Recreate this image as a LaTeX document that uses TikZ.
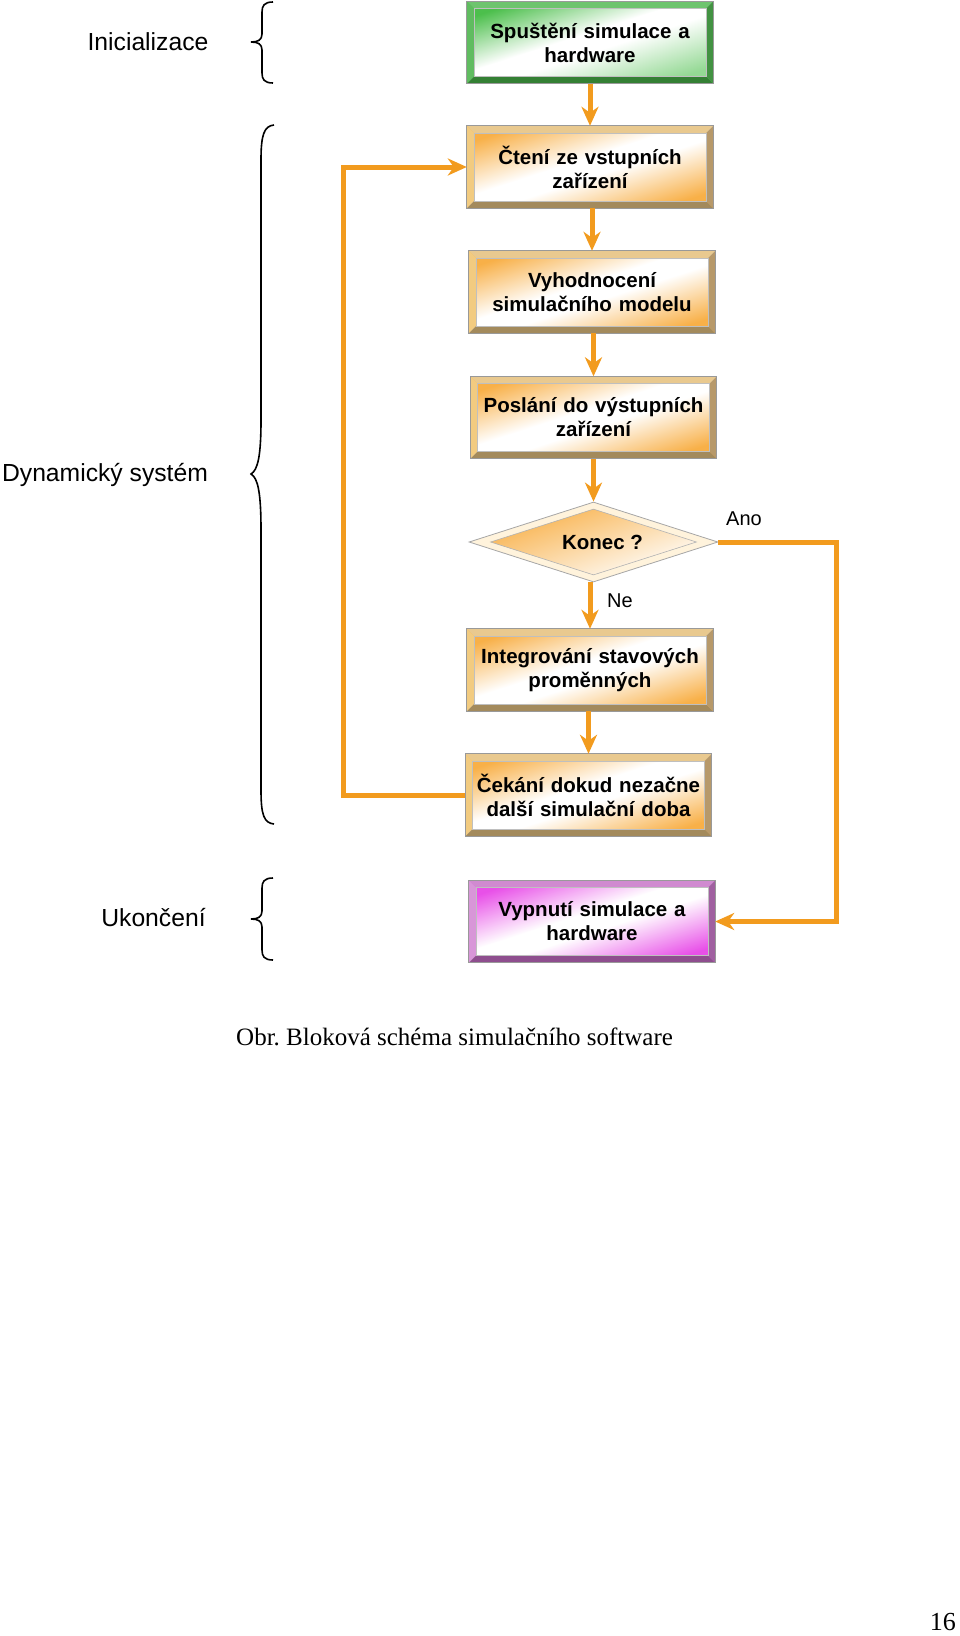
\documentclass[tikz,border=0pt]{standalone}
\usepackage{fontspec}
\setmainfont{Liberation Sans}
\newfontfamily\capfont{Liberation Serif}
\usetikzlibrary{arrows.meta,shapes.geometric}
\definecolor{arr}{RGB}{242,155,30}
\definecolor{orC}{RGB}{248,176,72}
\definecolor{orT}{RGB}{233,201,143}
\definecolor{orL}{RGB}{242,203,128}
\definecolor{orB}{RGB}{163,138,92}
\definecolor{orR}{RGB}{183,153,106}
\definecolor{grC}{RGB}{76,191,76}
\definecolor{grT}{RGB}{110,196,110}
\definecolor{grL}{RGB}{96,188,96}
\definecolor{grB}{RGB}{52,128,52}
\definecolor{grR}{RGB}{66,146,66}
\definecolor{puC}{RGB}{232,80,232}
\definecolor{puT}{RGB}{208,138,208}
\definecolor{puL}{RGB}{216,150,216}
\definecolor{puB}{RGB}{142,78,142}
\definecolor{puR}{RGB}{160,96,160}
\definecolor{cream}{RGB}{255,243,220}
\pgfdeclareverticalshading{orsh}{100bp}{color(0bp)=(orC); color(25bp)=(orC); color(46bp)=(white); color(54bp)=(white); color(75bp)=(orC); color(100bp)=(orC)}
\pgfdeclareverticalshading{grsh}{100bp}{color(0bp)=(grC!60!white); color(25bp)=(grC!60!white); color(46bp)=(white); color(54bp)=(white); color(75bp)=(grC); color(100bp)=(grC)}
\pgfdeclareverticalshading{push}{100bp}{color(0bp)=(puC); color(25bp)=(puC); color(46bp)=(white); color(54bp)=(white); color(75bp)=(puC); color(100bp)=(puC)}
\pgfdeclareverticalshading{dmsh}{100bp}{color(0bp)=(white); color(25bp)=(white); color(45bp)=(orC!40!white); color(75bp)=(orC); color(100bp)=(orC)}
\tikzset{
  box/.style={rectangle, minimum width=246pt, minimum height=82pt, inner sep=0pt,
    text width=232pt, align=center, font=\bfseries\fontsize{20.5}{24}\selectfont},
  shadebox/.style={box, shading=#1, shading angle=18},
  conn/.style={draw=arr, line width=5pt, -{Stealth[length=19pt,width=17pt,inset=6pt]}},
  bracepath/.style={draw=black, line width=1.6pt},
  side/.style={font=\fontsize{24.7}{28}\selectfont},
  lbl/.style={font=\fontsize{20}{24}\selectfont}
}
\newcommand\bevelframe[5]{%
  \fill[#2] (#1.north west) -- (#1.north east) -- ([shift={(-7,7)}]#1.north east) -- ([shift={(7,7)}]#1.north west) -- cycle;
  \fill[#3] (#1.north west) -- ([shift={(7,7)}]#1.north west) -- ([shift={(7,-7)}]#1.south west) -- (#1.south west) -- cycle;
  \fill[#4] (#1.south west) -- ([shift={(7,-7)}]#1.south west) -- ([shift={(-7,-7)}]#1.south east) -- (#1.south east) -- cycle;
  \fill[#5] (#1.south east) -- ([shift={(-7,-7)}]#1.south east) -- ([shift={(-7,7)}]#1.north east) -- (#1.north east) -- cycle;
  \draw[gray!80, line width=0.8pt] (#1.north west) rectangle (#1.south east);
  \draw[gray!50, line width=0.5pt] ([shift={(7,7)}]#1.north west) rectangle ([shift={(-7,-7)}]#1.south east);
}
\begin{document}
\begin{tikzpicture}[x=1pt,y=-1pt]
\useasboundingbox (0,0) rectangle (960,1636);

% boxes
\node[shadebox=grsh] (b1) at (590,42.5) {Spuštění simulace a\\hardware};
\bevelframe{b1}{grT}{grL}{grB}{grR}
\node[shadebox=orsh] (b2) at (590,167) {Čtení ze vstupních\\zařízení};
\bevelframe{b2}{orT}{orL}{orB}{orR}
\node[shadebox=orsh] (b3) at (592,292) {Vyhodnocení\\simulačního modelu};
\bevelframe{b3}{orT}{orL}{orB}{orR}
\node[shadebox=orsh] (b4) at (593.5,417.5) {Poslání do výstupních\\zařízení};
\bevelframe{b4}{orT}{orL}{orB}{orR}
\node[diamond, aspect=3.11, minimum width=249pt, minimum height=80pt, inner sep=0pt,
      draw=gray!70, line width=0.8pt, fill=cream] (d) at (593.5,542) {};
\node[diamond, aspect=3.11, minimum width=206pt, minimum height=66pt, inner sep=0pt,
      draw=gray!60, line width=0.6pt, shading=dmsh, shading angle=20,
      font=\bfseries\fontsize{20.5}{24}\selectfont] (dk) at (593.5,542) {\hspace*{18pt}Konec ?};
\node[shadebox=orsh] (b6) at (590,670) {Integrování stavových\\proměnných};
\bevelframe{b6}{orT}{orL}{orB}{orR}
\node[shadebox=orsh] (b7) at (588.5,795) {Čekání dokud nezačne\\další simulační doba};
\bevelframe{b7}{orT}{orL}{orB}{orR}
\node[shadebox=push] (b8) at (592,921.5) {Vypnutí simulace a\\hardware};
\bevelframe{b8}{puT}{puL}{puB}{puR}

% connectors
\draw[conn] (b2.north |- b1.south) -- (b2.north);
\draw[conn] (b3.north |- b2.south) -- (b3.north);
\draw[conn] (b4.north |- b3.south) -- (b4.north);
\draw[conn] (d.north |- b4.south) -- (d.north);
\draw[conn] (b6.north |- d.south) -- (b6.north);
\draw[conn] (b7.north |- b6.south) -- (b7.north);
\draw[conn] (b7.west) -- ++(-122,0) |- (b2.west);
\draw[conn] (d.east) -- ++(118,0) |- (b8.east);

\node[lbl] (ano) at (744,519) {Ano};
\node[lbl] (ne) at (620,601) {Ne};

% side labels
\node[side] (ini) at (148,42) {Inicializace};
\node[side] (dyn) at (105,475) {Dynamický systém};
\node[side] (uko) at (153.5,918) {Ukončení};

% braces
\draw[bracepath] (273,2) .. controls (264,2) and (262,6) .. (262,12) -- (262,34)
  .. controls (262,40) and (258,42) .. (251,42) .. controls (258,42) and (262,44) .. (262,50)
  -- (262,73) .. controls (262,79) and (264,83) .. (273,83);
\draw[bracepath] (274,125) .. controls (264,126) and (261,135) .. (261,160) -- (261,420)
  .. controls (261,455) and (258,470) .. (251,474) .. controls (258,478) and (261,493) .. (261,530)
  -- (261,790) .. controls (261,815) and (264,823) .. (274,824);
\draw[bracepath] (273,878) .. controls (264,878) and (262,882) .. (262,888) -- (262,911)
  .. controls (262,917) and (258,919) .. (251,919) .. controls (258,919) and (262,921) .. (262,927)
  -- (262,950) .. controls (262,956) and (264,960) .. (273,960);

% caption
\node[anchor=base west, inner sep=0pt, font=\capfont\fontsize{25}{30}\selectfont] (cap) at (236,1045) {Obr.\ Bloková schéma simulačního software};
\node[anchor=base east, inner sep=0pt, font=\capfont\fontsize{26}{30}\selectfont] (pg) at (956,1630) {16};
\end{tikzpicture}
\end{document}
